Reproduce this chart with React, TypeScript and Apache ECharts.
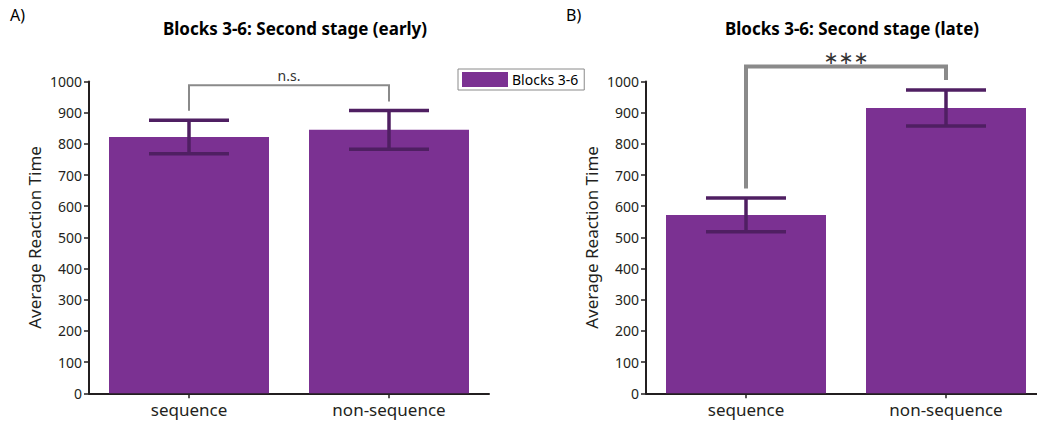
import React, { useEffect, useRef } from "react";
import * as echarts from "echarts";

// Conditions on the x axis
const categories = ["sequence", "non-sequence"];

// Panel A: early second stage (mean RT and error half-width)
const earlyMeans = [822, 845];
const earlyErrors = [54, 62];

// Panel B: late second stage
const lateMeans = [572, 915];
const lateErrors = [54, 58];

// Significance brackets: [fromCategory, toCategory, top, leftLegEnd, rightLegEnd]
const earlyBracket = [0, 1, 988, 906, 936];
const lateBracket = [0, 1, 1048, 657, 1005];
const earlyBracketLabel = "n.s.";
const lateBracketLabel = "∗∗∗";

const yTicks = { min: 0, max: 1000, interval: 100 };

const FONT = "'Noto Sans', 'DejaVu Sans', sans-serif";
const BAR_COLOR = "#7b3192";
const ERR_COLOR = "#4f1f62";
const BRACKET_COLOR = "#8a8a8a";
const AXIS_COLOR = "#231f20";

function errorSeries(means: number[], errs: number[], gridIndex: number) {
  return {
    type: "custom",
    xAxisIndex: gridIndex,
    yAxisIndex: gridIndex,
    z: 5,
    data: means.map((m, i) => [i, m - errs[i], m + errs[i]]),
    renderItem: (params: any, api: any) => {
      const low = api.coord([api.value(0), api.value(1)]);
      const high = api.coord([api.value(0), api.value(2)]);
      const half = api.size([1, 0])[0] * 0.2;
      const style = { stroke: ERR_COLOR, lineWidth: 3.5 };
      return {
        type: "group",
        children: [
          { type: "line", shape: { x1: low[0], y1: low[1], x2: high[0], y2: high[1] }, style },
          { type: "line", shape: { x1: low[0] - half, y1: low[1], x2: low[0] + half, y2: low[1] }, style },
          { type: "line", shape: { x1: high[0] - half, y1: high[1], x2: high[0] + half, y2: high[1] }, style },
        ],
      };
    },
  };
}

function bracketSeries(b: number[], label: string, gridIndex: number, width: number, fontSize: number, gap: number) {
  return {
    type: "custom",
    xAxisIndex: gridIndex,
    yAxisIndex: gridIndex,
    clip: false,
    z: 6,
    data: [b],
    renderItem: (params: any, api: any) => {
      const leftBottom = api.coord([api.value(0), api.value(3)]);
      const leftTop = api.coord([api.value(0), api.value(2)]);
      const rightTop = api.coord([api.value(1), api.value(2)]);
      const rightBottom = api.coord([api.value(1), api.value(4)]);
      return {
        type: "group",
        children: [
          {
            type: "polyline",
            shape: { points: [leftBottom, leftTop, rightTop, rightBottom] },
            style: { stroke: BRACKET_COLOR, lineWidth: width, fill: null, lineJoin: "miter" },
          },
          {
            type: "text",
            x: (leftTop[0] + rightTop[0]) / 2,
            y: leftTop[1] - gap,
            style: {
              text: label,
              fill: "#333",
              font: `${fontSize}px ${FONT}`,
              textAlign: "center",
              textVerticalAlign: "bottom",
            },
          },
        ],
      };
    },
  };
}

function makeYAxis(gridIndex: number) {
  return {
    type: "value",
    gridIndex,
    min: yTicks.min,
    max: yTicks.max,
    interval: yTicks.interval,
    name: "Average Reaction Time",
    nameLocation: "middle",
    nameGap: 46,
    nameTextStyle: { fontFamily: FONT, fontSize: 17, color: "#231f20" },
    axisLine: { show: true, lineStyle: { color: AXIS_COLOR, width: 2 } },
    axisTick: { show: true, length: 5, lineStyle: { color: AXIS_COLOR, width: 1.5 } },
    splitLine: { show: false },
    axisLabel: {
      fontFamily: FONT,
      fontSize: 14,
      color: "#231f20",
      margin: 7,
      formatter: (v: number) => String(v),
    },
  };
}

function makeXAxis(gridIndex: number) {
  return {
    type: "category",
    gridIndex,
    data: categories,
    axisLine: { show: true, lineStyle: { color: AXIS_COLOR, width: 2 } },
    axisTick: { show: true, alignWithLabel: true, length: 5, lineStyle: { color: AXIS_COLOR, width: 1.5 } },
    axisLabel: { fontFamily: FONT, fontSize: 17, color: "#231f20", margin: 8 },
  };
}

export default function App() {
  const ref = useRef<HTMLDivElement>(null);

  useEffect(() => {
    if (!ref.current) return;
    const chart = echarts.init(ref.current, undefined, { renderer: "svg" });
    chart.setOption({
      animation: false,
      backgroundColor: "#ffffff",
      title: [
        {
          text: "Blocks 3-6: Second stage (early)",
          left: 290,
          top: 15,
          textAlign: "center",
          textStyle: { fontFamily: FONT, fontSize: 17, fontWeight: "bold", color: "#000" },
        },
        {
          text: "Blocks 3-6: Second stage (late)",
          left: 847,
          top: 15,
          textAlign: "center",
          textStyle: { fontFamily: FONT, fontSize: 17, fontWeight: "bold", color: "#000" },
        },
      ],
      graphic: [
        { type: "text", left: 10, top: 7, style: { text: "A)", font: `16px ${FONT}`, fill: "#000" } },
        { type: "text", left: 566, top: 7, style: { text: "B)", font: `16px ${FONT}`, fill: "#000" } },
      ],
      legend: {
        data: ["Blocks 3-6"],
        left: 458,
        top: 69,
        orient: "horizontal",
        itemWidth: 46,
        itemHeight: 15,
        itemGap: 4,
        padding: [3, 6, 3, 4],
        borderColor: "#8a8a8a",
        borderWidth: 1,
        icon: "rect",
        textStyle: { fontFamily: FONT, fontSize: 14, color: "#000", padding: [0, 0, 0, -1] },
      },
      grid: [
        { left: 89, top: 81.5, width: 400, height: 311.8, outerBoundsMode: "none", containLabel: false },
        { left: 646, top: 81.5, width: 400, height: 311.8, outerBoundsMode: "none", containLabel: false },
      ],
      xAxis: [makeXAxis(0), makeXAxis(1)],
      yAxis: [makeYAxis(0), makeYAxis(1)],
      series: [
        {
          name: "Blocks 3-6",
          type: "bar",
          xAxisIndex: 0,
          yAxisIndex: 0,
          barWidth: "80%",
          itemStyle: { color: BAR_COLOR },
          data: earlyMeans,
        },
        {
          name: "Blocks 3-6",
          type: "bar",
          xAxisIndex: 1,
          yAxisIndex: 1,
          barWidth: "80%",
          itemStyle: { color: BAR_COLOR },
          data: lateMeans,
        },
        errorSeries(earlyMeans, earlyErrors, 0),
        errorSeries(lateMeans, lateErrors, 1),
        bracketSeries(earlyBracket, earlyBracketLabel, 0, 2, 14, 3),
        bracketSeries(lateBracket, lateBracketLabel, 1, 4, 18, 1),
      ],
    });
    return () => chart.dispose();
  }, []);

  return (
    <div
      ref={ref}
      style={{ position: "fixed", left: 0, top: 0, width: 1037, height: 424 }}
    />
  );
}
